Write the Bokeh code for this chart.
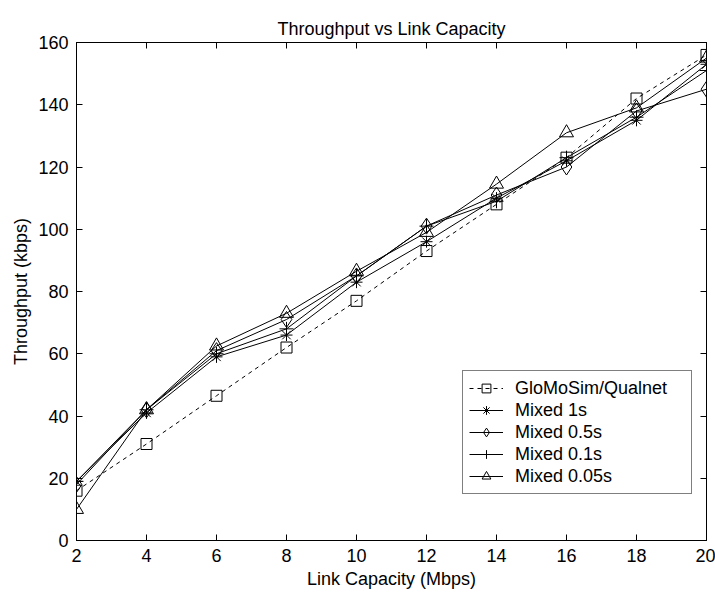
from bokeh.plotting import figure
from bokeh.models import (LinearAxis, FixedTicker, Range1d, Legend, LegendItem,
                          ColumnDataSource, CustomJSTickFormatter)
from bokeh.embed import file_html
from bokeh.resources import INLINE

capacity = [2, 4, 6, 8, 10, 12, 14, 16, 18, 20]
glomosim = [16, 31, 46.5, 62, 77, 93, 108, 123, 142, 156]
mixed_1s = [19, 41, 59, 66, 83, 96, 110, 122, 135, 153]
mixed_05s = [18, 42, 61, 71, 85, 101, 111, 120, 138, 145]
mixed_01s = [19, 42, 60, 68, 85, 101, 109, 123, 136, 151]
mixed_005s = [10, 42, 62.5, 73, 86.5, 99, 114.5, 131, 139, 155]

x_ticks = [2, 4, 6, 8, 10, 12, 14, 16, 18, 20]
y_ticks = [0, 20, 40, 60, 80, 100, 120, 140, 160]

FONT = "Liberation Sans"
FS = "18px"

p = figure(width=715, height=594, output_backend="svg", toolbar_location=None,
           x_range=Range1d(2, 20), y_range=Range1d(0, 160),
           min_border_left=76, min_border_right=9, min_border_top=42, min_border_bottom=54,
           title="Throughput vs Link Capacity")
p.title.align = "center"
p.title.text_font = FONT
p.title.text_font_size = FS
p.title.text_font_style = "normal"
p.title.text_color = "black"
p.title.standoff = 8
p.grid.visible = False
p.outline_line_color = "black"
p.outline_line_width = 1
p.background_fill_color = "white"
p.border_fill_color = "white"

for ax in p.xaxis:
    ax.ticker = FixedTicker(ticks=x_ticks)
    ax.axis_label = "Link Capacity (Mbps)"
for ax in p.yaxis:
    ax.ticker = FixedTicker(ticks=y_ticks)
    ax.axis_label = "Throughput (kbps)"

for ax in list(p.xaxis) + list(p.yaxis):
    ax.major_tick_in = 6
    ax.major_tick_out = 0
    ax.minor_tick_line_color = None
    ax.major_label_text_font = FONT
    ax.major_label_text_font_size = FS
    ax.axis_label_text_font = FONT
    ax.axis_label_text_font_size = FS
    ax.axis_label_text_font_style = "normal"
    ax.axis_line_color = "black"
    ax.major_tick_line_color = "black"
    ax.major_label_text_color = "black"
    ax.axis_label_text_color = "black"
    ax.major_label_standoff = 8
    ax.axis_label_standoff = 4

blank = CustomJSTickFormatter(code="return ''")
right = LinearAxis(ticker=FixedTicker(ticks=y_ticks), major_tick_in=6, major_tick_out=0,
                   minor_tick_line_color=None, formatter=blank,
                   major_label_standoff=0, axis_line_color="black")
top = LinearAxis(ticker=FixedTicker(ticks=x_ticks), major_tick_in=6, major_tick_out=0,
                 minor_tick_line_color=None, formatter=CustomJSTickFormatter(code="return ''"),
                 major_label_standoff=0, axis_line_color="black")
p.add_layout(right, "right")
p.add_layout(top, "above")

src = ColumnDataSource(dict(x=capacity, glo=glomosim, m1=mixed_1s, m05=mixed_05s,
                            m01=mixed_01s, m005=mixed_005s))

series = [
    ("GloMoSim/Qualnet", "glo", "square", 11, "4 4"),
    ("Mixed 1s", "m1", "asterisk", 12, "solid"),
    ("Mixed 0.5s", "m05", "diamond", 16, "solid"),
    ("Mixed 0.1s", "m01", "cross", 14, "solid"),
    ("Mixed 0.05s", "m005", "triangle", 14, "solid"),
]

items = []
for label, col, marker, size, dash in series:
    ln = p.line("x", col, source=src, line_color="black", line_width=1, line_dash=dash)
    sc = p.scatter("x", col, source=src, marker=marker, size=size, line_color="black",
                   line_width=1, fill_color=None)
    items.append(LegendItem(label=label, renderers=[ln, sc]))

legend = Legend(items=items, location=(386, 46), padding=6, spacing=0, margin=0,
                label_height=22, glyph_height=22, glyph_width=34, label_standoff=12,
                label_width=170,
                label_text_font=FONT, label_text_font_size=FS, label_text_color="black",
                border_line_color="black", border_line_width=1,
                background_fill_color="white", background_fill_alpha=1)
p.add_layout(legend, "center")

open("out.html", "w").write(file_html(p, INLINE))
